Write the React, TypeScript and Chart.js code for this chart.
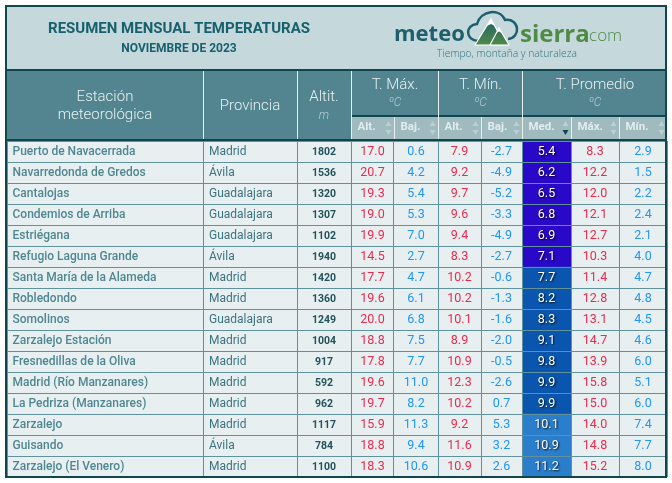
import { useEffect, useRef } from 'react';
import { Chart, registerables } from 'chart.js';

Chart.register(...registerables);

const stations = ['Puerto de Navacerrada', 'Navarredonda de Gredos', 'Cantalojas', 'Condemios de Arriba', 'Estriégana', 'Refugio Laguna Grande', 'Santa María de la Alameda', 'Robledondo', 'Somolinos', 'Zarzalejo Estación', 'Fresnedillas de la Oliva', 'Madrid (Río Manzanares)', 'La Pedriza (Manzanares)', 'Zarzalejo', 'Guisando', 'Zarzalejo (El Venero)'];
const provinces = ['Madrid', 'Ávila', 'Guadalajara', 'Guadalajara', 'Guadalajara', 'Ávila', 'Madrid', 'Madrid', 'Guadalajara', 'Madrid', 'Madrid', 'Madrid', 'Madrid', 'Madrid', 'Ávila', 'Madrid'];
const altitudes = [1802, 1536, 1320, 1307, 1102, 1940, 1420, 1360, 1249, 1004, 917, 592, 962, 1117, 784, 1100];
const maxHigh = [17.0, 20.7, 19.3, 19.0, 19.9, 14.5, 17.7, 19.6, 20.0, 18.8, 17.8, 19.6, 19.7, 15.9, 18.8, 18.3];
const maxLow = [0.6, 4.2, 5.4, 5.3, 7.0, 2.7, 4.7, 6.1, 6.8, 7.5, 7.7, 11.0, 8.2, 11.3, 9.4, 10.6];
const minHigh = [7.9, 9.2, 9.7, 9.6, 9.4, 8.3, 10.2, 10.2, 10.1, 8.9, 10.9, 12.3, 10.2, 9.2, 11.6, 10.9];
const minLow = [-2.7, -4.9, -5.2, -3.3, -4.9, -2.7, -0.6, -1.3, -1.6, -2.0, -0.5, -2.6, 0.7, 5.3, 3.2, 2.6];
const avgMed = [5.4, 6.2, 6.5, 6.8, 6.9, 7.1, 7.7, 8.2, 8.3, 9.1, 9.8, 9.9, 9.9, 10.1, 10.9, 11.2];
const avgMax = [8.3, 12.2, 12.0, 12.1, 12.7, 10.3, 11.4, 12.8, 13.1, 14.7, 13.9, 15.8, 15.0, 14.0, 14.8, 15.2];
const avgMin = [2.9, 1.5, 2.2, 2.4, 2.1, 4.0, 4.7, 4.8, 4.5, 4.6, 6.0, 5.1, 6.0, 7.4, 7.7, 8.0];
const subHeaders = ['Alt.', 'Baj.', 'Alt.', 'Baj.', 'Med.', 'Máx.', 'Mín.'];

const RED = '#e92b4e';
const BLUE = '#2196f3';
const TEAL_DARK = '#0f4650';
const HEADER = '#52858f';
const SUBHEADER = '#9fbbc0';
const BAND = '#c5d8dc';
const ROW = '#e8eff1';
const GRID = '#5f929b';
const HEAD_TEXT = '#e8f0f1';

// anchura de cada columna de la tabla, en px
const colWidths = [196, 94, 54, 43, 44, 43, 41, 49, 48, 48];
const total = colWidths.reduce((a, b) => a + b, 0);
const edges = colWidths.reduce<number[]>((acc, w) => [...acc, acc[acc.length - 1] + w], [0]);

const medColor = (v: number) => (v < 7.5 ? '#2a08c8' : v < 10 ? '#0a56ae' : '#2a7ecb');

type Col = { values: string[]; color: string; font: string; align: 'left' | 'center' };
const num = (a: number[]) => a.map((v) => v.toFixed(1));
const NUMFONT = '12.5px Roboto';
const columns: Col[] = [
  { values: stations, color: '#4f8791', font: '500 12px Roboto', align: 'left' },
  { values: provinces, color: '#3b737e', font: '12px Roboto', align: 'left' },
  { values: altitudes.map(String), color: '#24525b', font: 'bold 10.5px Roboto', align: 'center' },
  { values: num(maxHigh), color: RED, font: NUMFONT, align: 'center' },
  { values: num(maxLow), color: BLUE, font: NUMFONT, align: 'center' },
  { values: num(minHigh), color: RED, font: NUMFONT, align: 'center' },
  { values: num(minLow), color: BLUE, font: NUMFONT, align: 'center' },
  { values: num(avgMed), color: '#ffffff', font: NUMFONT, align: 'center' },
  { values: num(avgMax), color: RED, font: NUMFONT, align: 'center' },
  { values: num(avgMin), color: BLUE, font: NUMFONT, align: 'center' },
];

function text(ctx: CanvasRenderingContext2D, s: string, x: number, y: number, font: string, color: string, align: CanvasTextAlign = 'center') {
  ctx.font = font;
  ctx.fillStyle = color;
  ctx.textAlign = align;
  ctx.textBaseline = 'middle';
  ctx.fillText(s, x, y);
}

function drawLogo(ctx: CanvasRenderingContext2D) {
  ctx.save();
  text(ctx, 'meteo', 394, 35, 'bold 22px "Open Sans"', '#1d5f6c', 'left');
  text(ctx, 'sierra', 520, 35, 'bold 24px "Open Sans"', '#4f8b45', 'left');
  text(ctx, '.com', 585, 36, '300 17px "Open Sans"', '#4f8b45', 'left');
  text(ctx, 'Tiempo, montaña y naturaleza', 437, 54, '300 10.3px "Open Sans"', '#2f6f7a', 'left');

  // nube
  ctx.strokeStyle = '#1d5f6c';
  ctx.lineWidth = 2.5;
  ctx.beginPath();
  ctx.moveTo(478, 41);
  ctx.bezierCurveTo(465, 40, 465, 25, 477, 24);
  ctx.bezierCurveTo(481, 10, 500, 8, 505, 20);
  ctx.bezierCurveTo(520, 18, 521, 38, 508, 39);
  ctx.stroke();

  // montañas
  const grad = ctx.createLinearGradient(0, 18, 0, 45);
  grad.addColorStop(0, '#1d5f6c');
  grad.addColorStop(1, '#4f8b45');
  ctx.fillStyle = grad;
  ctx.strokeStyle = '#ffffff';
  ctx.lineWidth = 1.2;
  ctx.beginPath();
  ctx.moveTo(475, 45);
  ctx.lineTo(491, 19);
  ctx.lineTo(505, 45);
  ctx.closePath();
  ctx.fill();
  ctx.stroke();
  ctx.beginPath();
  ctx.moveTo(490, 45);
  ctx.lineTo(499, 28);
  ctx.lineTo(509, 45);
  ctx.closePath();
  ctx.fill();
  ctx.stroke();
  // nieve de las cumbres
  ctx.fillStyle = '#ffffff';
  ctx.beginPath();
  ctx.moveTo(491, 19);
  ctx.lineTo(487, 26);
  ctx.lineTo(491, 24);
  ctx.lineTo(495, 26);
  ctx.closePath();
  ctx.fill();
  ctx.beginPath();
  ctx.moveTo(499, 28);
  ctx.lineTo(496.5, 33);
  ctx.lineTo(499, 31.5);
  ctx.lineTo(501.5, 33);
  ctx.closePath();
  ctx.fill();
  ctx.restore();
}

const tableFrame = {
  id: 'tableFrame',
  beforeDraw(chart: Chart) {
    const { ctx } = chart;
    const x = chart.scales.x;
    const px = (i: number) => Math.round(x.getPixelForValue(edges[i])) + 0.5;
    const left = x.left;
    const right = x.right;
    ctx.save();
    ctx.fillStyle = TEAL_DARK;
    ctx.fillRect(5, 5, 662, 473);
    ctx.fillStyle = BAND;
    ctx.fillRect(left, 7, right - left, 62);
    ctx.fillStyle = HEADER;
    ctx.fillRect(left, 71, right - left, 68);
    ctx.fillStyle = TEAL_DARK;
    ctx.fillRect(px(3) - 0.5, 115, right - px(3) + 0.5, 2);
    ctx.fillStyle = SUBHEADER;
    ctx.fillRect(px(3) - 0.5, 117, right - px(3) + 0.5, 22);

    text(ctx, 'RESUMEN MENSUAL TEMPERATURAS', 179, 29.5, 'bold 15px Roboto', '#17606d');
    text(ctx, 'NOVIEMBRE DE 2023', 179, 48.5, 'bold 12px Roboto', '#17606d');
    drawLogo(ctx);

    text(ctx, 'Estación', 105, 97, '300 15px Roboto', HEAD_TEXT);
    text(ctx, 'meteorológica', 105, 115, '300 15px Roboto', HEAD_TEXT);
    text(ctx, 'Provincia', 250, 106, '300 15px Roboto', HEAD_TEXT);
    text(ctx, 'Altit.', 324, 97, '300 15px Roboto', HEAD_TEXT);
    text(ctx, 'm', 324, 115.5, 'italic 300 12px Roboto', '#b3cdd2');
    const groups: [string, number, number][] = [['T. Máx.', 3, 5], ['T. Mín.', 5, 7], ['T. Promedio', 7, 10]];
    groups.forEach(([label, a, b]) => {
      const cx = (px(a) + px(b)) / 2;
      text(ctx, label, cx, 85, '300 15px Roboto', HEAD_TEXT);
      text(ctx, 'ºC', cx, 102.5, 'italic 300 12px Roboto', '#b3cdd2');
    });

    // líneas verticales claras de la cabecera
    ctx.strokeStyle = HEAD_TEXT;
    ctx.lineWidth = 1;
    ctx.beginPath();
    [1, 2, 3, 5, 7].forEach((i) => {
      ctx.moveTo(px(i), 71);
      ctx.lineTo(px(i), 139);
    });
    [4, 6, 8, 9].forEach((i) => {
      ctx.moveTo(px(i), 117);
      ctx.lineTo(px(i), 139);
    });
    ctx.stroke();

    subHeaders.forEach((label, i) => {
      const a = px(i + 3);
      const b = i + 4 < edges.length ? px(i + 4) : right;
      text(ctx, label, a + 6, 127.5, 'bold 11.5px Roboto', '#e3ecee', 'left');
      const ax = b - 6;
      ctx.fillStyle = '#bccfd3';
      ctx.beginPath();
      ctx.moveTo(ax - 3, 126);
      ctx.lineTo(ax + 3, 126);
      ctx.lineTo(ax, 121);
      ctx.closePath();
      ctx.fill();
      ctx.fillStyle = label === 'Med.' ? TEAL_DARK : '#bccfd3';
      ctx.beginPath();
      ctx.moveTo(ax - 3, 130);
      ctx.lineTo(ax + 3, 130);
      ctx.lineTo(ax, 135);
      ctx.closePath();
      ctx.fill();
    });
    ctx.restore();
  },
  afterDraw(chart: Chart) {
    const { ctx } = chart;
    ctx.save();
    ctx.fillStyle = TEAL_DARK;
    ctx.fillRect(5, 139, 662, 2);
    ctx.fillRect(5, 69, 662, 2);
    ctx.strokeStyle = TEAL_DARK;
    ctx.lineWidth = 2;
    ctx.strokeRect(6, 6, 660, 471);
    ctx.restore();
  },
};

const cellText = {
  id: 'cellText',
  afterDatasetsDraw(chart: Chart) {
    const { ctx } = chart;
    columns.forEach((col, c) => {
      const meta = chart.getDatasetMeta(c);
      meta.data.forEach((el: any, r: number) => {
        const left = el.base;
        const right = el.x;
        const x = col.align === 'left' ? left + (c === 1 ? 6 : 5) : (left + right) / 2;
        ctx.save();
        if (c === 7) {
          ctx.shadowColor = 'rgba(0,0,0,0.9)';
          ctx.shadowBlur = 2;
          ctx.shadowOffsetX = 1;
          ctx.shadowOffsetY = 1;
        }
        text(ctx, col.values[r], x, el.y + 0.5, col.font, col.color, col.align);
        ctx.restore();
      });
    });
  },
};

export default function App() {
  const canvasRef = useRef<HTMLCanvasElement>(null);

  useEffect(() => {
    if (!canvasRef.current) return;
    const chart = new Chart(canvasRef.current, {
      type: 'bar',
      data: {
        labels: stations,
        datasets: colWidths.map((w, c) => ({
          data: stations.map(() => w),
          backgroundColor: c === 7 ? avgMed.map(medColor) : ROW,
          barPercentage: 1,
          categoryPercentage: 1,
          borderWidth: 0,
        })),
      },
      options: {
        indexAxis: 'y',
        responsive: false,
        animation: false,
        layout: { padding: { left: 7, right: 5, top: 141, bottom: 6 } },
        plugins: { legend: { display: false }, title: { display: false }, tooltip: { enabled: false } },
        scales: {
          x: {
            type: 'linear',
            stacked: true,
            min: 0,
            max: total,
            afterBuildTicks: (s: any) => {
              s.ticks = edges.map((value) => ({ value }));
            },
            ticks: { display: false },
            border: { display: false },
            grid: { color: GRID, lineWidth: 1, drawTicks: false, z: 1 },
          },
          y: {
            type: 'category',
            stacked: true,
            ticks: { display: false },
            border: { display: false },
            grid: { color: GRID, lineWidth: 1, drawTicks: false, offset: true, z: 1 },
          },
        },
      },
      plugins: [tableFrame, cellText],
    });
    return () => chart.destroy();
  }, []);

  return (
    <div style={{ position: 'fixed', inset: 0, background: '#fff' }}>
      <canvas ref={canvasRef} width={672} height={483} style={{ display: 'block' }} />
    </div>
  );
}
